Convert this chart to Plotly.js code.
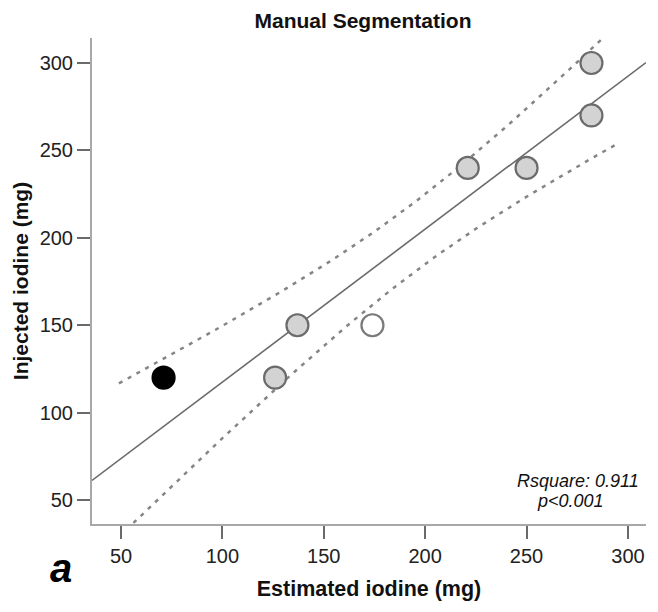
<!DOCTYPE html>
<html><head><meta charset="utf-8">
<script src="https://cdn.plot.ly/plotly-3.0.1.min.js"></script>
<style>html,body{margin:0;padding:0;background:#fff}</style>
</head><body><div id="chart" style="width:658px;height:612px"></div>
<script>
// ---- data ----
const estimatedIodine = [71, 126, 137, 174, 221, 250, 282, 282];
const injectedIodine  = [120, 120, 150, 150, 240, 240, 270, 300];
const pointGroup      = ['filled', 'shaded', 'shaded', 'open', 'shaded', 'shaded', 'shaded', 'shaded'];
const xTickVals = [50, 100, 150, 200, 250, 300];
const yTickVals = [50, 100, 150, 200, 250, 300];
const chartTitle = 'Manual Segmentation';
const xTitle = 'Estimated iodine (mg)';
const yTitle = 'Injected iodine (mg)';
const rsquareText = 'Rsquare: 0.911';
const pValueText = 'p&lt;0.001';
const panelLetter = 'a';

// ---- styles ----
const groupStyle = {
  filled: {fill: '#000000', line: '#000000'},
  shaded: {fill: '#d3d3d3', line: '#6b6b6b'},
  open:   {fill: '#ffffff', line: '#7a7a7a'}
};
const xRange = [35.7, 308.9];
const yRange = [36.3, 314.3];
const ciSpan = [49, 296];
const tCrit = 2.4469; // t(0.975, df = n-2 = 6)

// ---- linear fit with 95% CI of the mean ----
const n = estimatedIodine.length;
const mx = estimatedIodine.reduce((a, b) => a + b, 0) / n;
const my = injectedIodine.reduce((a, b) => a + b, 0) / n;
let sxx = 0, sxy = 0;
for (let i = 0; i < n; i++) {
  sxx += (estimatedIodine[i] - mx) ** 2;
  sxy += (estimatedIodine[i] - mx) * (injectedIodine[i] - my);
}
const slope = sxy / sxx;
const intercept = my - slope * mx;
let sse = 0;
for (let i = 0; i < n; i++) {
  sse += (injectedIodine[i] - (intercept + slope * estimatedIodine[i])) ** 2;
}
const s = Math.sqrt(sse / (n - 2));
const fitX = [xRange[0], xRange[1]];
const fitY = fitX.map(x => intercept + slope * x);
const ciX = [], ciLo = [], ciHi = [];
const steps = 80;
for (let k = 0; k <= steps; k++) {
  const x = ciSpan[0] + (ciSpan[1] - ciSpan[0]) * k / steps;
  const yhat = intercept + slope * x;
  const hw = tCrit * s * Math.sqrt(1 / n + (x - mx) ** 2 / sxx);
  ciX.push(x); ciLo.push(yhat - hw); ciHi.push(yhat + hw);
}

const fontFam = 'Liberation Sans, Arial, sans-serif';
const traces = [
  {x: ciX, y: ciHi, mode: 'lines', line: {color: '#858585', width: 2.5, dash: '4px,6px'}, hoverinfo: 'skip', showlegend: false},
  {x: ciX, y: ciLo, mode: 'lines', line: {color: '#858585', width: 2.5, dash: '4px,6px'}, hoverinfo: 'skip', showlegend: false},
  {x: fitX, y: fitY, mode: 'lines', line: {color: '#6a6a6a', width: 1.6}, hoverinfo: 'skip', showlegend: false},
  {x: estimatedIodine, y: injectedIodine, mode: 'markers', showlegend: false,
   marker: {size: 22, color: pointGroup.map(g => groupStyle[g].fill),
            line: {width: 2.2, color: pointGroup.map(g => groupStyle[g].line)}}}
];

const axisCommon = {
  showline: true, linecolor: '#a8a8a8', linewidth: 2,
  ticks: 'outside', ticklen: 13, tickwidth: 2, tickcolor: '#6a6a6a',
  showgrid: false, zeroline: false,
  tickfont: {family: fontFam, size: 20, color: '#222'}
};

const layout = {
  width: 658, height: 612,
  margin: {l: 92, r: 12, t: 38, b: 88},
  paper_bgcolor: '#fff', plot_bgcolor: '#fff',
  title: {text: chartTitle, x: 363 / 658, xref: 'container', xanchor: 'center',
          y: 1 - 21 / 612, yref: 'container', yanchor: 'middle',
          font: {family: fontFam, size: 21, weight: 700, color: '#111'}},
  xaxis: Object.assign({}, axisCommon, {range: xRange, tickvals: xTickVals,
          title: {text: xTitle, standoff: 15, font: {family: fontFam, size: 21.5, weight: 700, color: '#111'}}}),
  yaxis: Object.assign({}, axisCommon, {range: yRange, tickvals: yTickVals,
          title: {text: yTitle, standoff: 5, font: {family: fontFam, size: 21, weight: 700, color: '#111'}}}),
  annotations: [
    {text: rsquareText, xref: 'paper', yref: 'paper', x: (578 - 92) / 554, y: (524 - 481) / 486,
     xanchor: 'center', yanchor: 'middle', showarrow: false,
     font: {family: fontFam, size: 18, style: 'italic', color: '#111'}},
    {text: pValueText, xref: 'paper', yref: 'paper', x: (570 - 92) / 554, y: (524 - 501) / 486,
     xanchor: 'center', yanchor: 'middle', showarrow: false,
     font: {family: fontFam, size: 18, style: 'italic', color: '#111'}},
    {text: panelLetter, xref: 'paper', yref: 'paper', x: (61 - 92) / 554, y: (524 - 568) / 486,
     xanchor: 'center', yanchor: 'middle', showarrow: false,
     font: {family: fontFam, size: 40, weight: 700, style: 'italic', color: '#000'}}
  ]
};

Plotly.newPlot('chart', traces, layout, {displayModeBar: false, staticPlot: true});
</script>
</body></html>
